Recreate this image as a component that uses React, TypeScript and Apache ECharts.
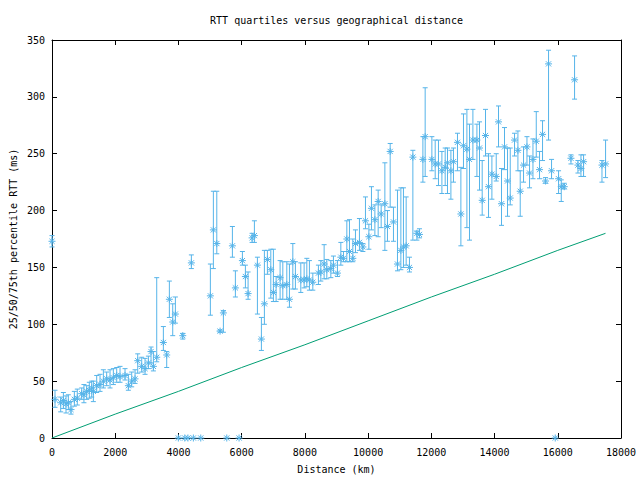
import React, { useEffect, useRef } from "react";
import * as echarts from "echarts";

const distanceKm = [0,95,275,360,443,517,601,707,800,940,1010,1097,1180,1256,1308,1414,1519,1625,1730,1836,1941,2047,2152,2310,2416,2521,2627,2712,2838,2943,3049,3133,3207,3313,3523,3629,3713,3819,3903,3997,4136,4200,4300,4409,4472,4706,5010,5105,5213,5317,5422,5529,5707,5801,5918,6023,6118,6203,6330,6403,6498,6624,6719,6814,6922,7004,7090,7216,7302,7428,7511,7618,7700,7871,7976,8061,8143,8251,8428,8504,8609,8694,8821,8903,9030,9137,9220,9327,9410,9517,9600,9726,9834,9916,10024,10106,10214,10318,10413,10530,10612,10698,10802,10929,11036,11118,11204,11308,11416,11543,11625,11733,11805,12017,12122,12226,12334,12438,12511,12619,12700,12827,12935,13017,13125,13207,13315,13442,13524,13609,13714,13809,13916,14053,14125,14220,14315,14410,14496,14632,14739,14812,14917,15025,15107,15215,15319,15423,15518,15613,15708,15803,15920,16025,16110,16205,16417,16531,16638,16733,16816,17398,17512];
const medianRtt = [173,34,31,33,30,31,25,34,35,39,38,41,42,44,41,46,47,50,52,51,53,55,54,55,46,50,52,68,63,61,66,76,63,71,84,73,122,102,109,0,90,0,0,154,0,0,125,183,171,94,110,0,169,132,0,156,142,127,176,178,152,87,118,157,148,128,135,141,134,135,122,155,142,139,139,140,139,137,145,146,153,148,149,152,145,159,158,175,164,158,171,172,168,191,177,202,192,208,197,206,186,252,190,153,165,168,169,150,247,180,179,245,265,245,241,241,235,238,242,235,243,260,197,257,254,245,262,262,255,209,266,221,232,230,278,206,256,226,211,262,253,217,240,256,233,245,261,236,267,226,329,235,0,228,221,221,246,315,240,237,243,240,241];
const q1Rtt = [168,27,23,26,22,25,21,28,29,34,31,34,35,36,32,40,41,44,46,44,47,49,49,51,42,45,48,57,58,56,61,66,59,67,77,62,106,90,101,0,87,0,0,149,0,0,108,149,162,93,93,0,159,124,0,152,132,122,172,172,109,77,100,144,123,120,120,122,122,122,115,131,131,128,132,133,130,130,135,138,140,140,141,145,142,152,155,155,155,155,163,165,164,184,166,183,178,177,185,165,173,203,173,147,148,150,152,146,174,174,176,225,230,235,228,222,215,222,215,210,225,235,169,237,185,174,245,230,218,196,248,194,210,226,256,187,236,195,205,248,235,195,225,240,220,228,247,228,244,224,262,228,0,215,208,219,241,298,233,230,230,225,229];
const q3Rtt = [178,42,36,40,37,38,32,41,43,44,47,46,49,50,50,55,56,60,58,60,61,62,63,61,56,58,60,74,71,70,72,80,76,141,98,76,138,118,124,0,92,0,0,161,0,0,153,217,217,95,112,0,186,147,0,164,152,146,180,191,159,106,165,165,166,166,142,156,155,155,153,171,155,154,154,158,156,145,152,156,170,157,156,160,156,172,164,191,192,175,183,193,171,212,188,221,205,218,205,242,200,259,203,218,220,220,212,159,253,182,184,265,308,265,262,262,252,255,255,253,255,268,238,285,289,276,289,276,278,244,289,250,248,250,292,237,273,255,255,268,270,235,256,265,248,263,287,252,279,229,341,245,0,235,227,224,249,336,244,249,249,244,262];

const guideKm = [0, 2000, 4000, 6000, 8000, 10000, 12000, 14000, 16000, 17510];
const guideMs = [0, 21, 41, 62, 82, 103, 124, 144, 165, 180];

const xTicks = { min: 0, max: 18000, interval: 2000 };
const yTicks = { min: 0, max: 350, interval: 50 };

const title = "RTT quartiles versus geographical distance";
const xName = "Distance (km)";
const yName = "25/50/75th percentile RTT (ms)";

const BLUE = "#56B4E9";
const GREEN = "#009E73";
const FONT = "DejaVu Sans Mono";

export default function App() {
  const ref = useRef<HTMLDivElement>(null);
  useEffect(() => {
    if (!ref.current) return;
    document.body.style.margin = "0";
    const chart = echarts.init(ref.current, null, { renderer: "svg" });
    const data = distanceKm.map((d, i) => [d, medianRtt[i], q1Rtt[i], q3Rtt[i]]);
    const axisCommon = {
      axisLine: { show: true, onZero: false, lineStyle: { color: "#000", width: 1 } },
      axisTick: { show: true, inside: true, length: 5, lineStyle: { color: "#000" } },
      splitLine: { show: false },
    };
    const left = 52, right = 19, top = 40, bottom = 42;
    chart.setOption({
      animation: false,
      backgroundColor: "#fff",
      grid: { left, right, top, bottom, containLabel: false },
      xAxis: [
        {
          type: "value", ...xTicks, position: "bottom", ...axisCommon,
          axisLabel: { color: "#000", fontFamily: FONT, fontSize: 10, margin: 9, formatter: (v: number) => String(v) },
        },
        {
          type: "value", ...xTicks, position: "top", ...axisCommon,
          axisLabel: { show: false },
        },
      ],
      yAxis: [
        {
          type: "value", ...yTicks, position: "left", ...axisCommon,
          axisLabel: { color: "#000", fontFamily: FONT, fontSize: 10, margin: 7, formatter: (v: number) => String(v) },
        },
        {
          type: "value", ...yTicks, position: "right", ...axisCommon,
          axisLabel: { show: false },
        },
      ],
      graphic: [
        { type: "text", x: 336.5, y: 20, style: { text: title, fontFamily: FONT, fontSize: 10, fill: "#000", textAlign: "center", textVerticalAlign: "middle" } },
        { type: "text", x: 336.5, y: 469, style: { text: xName, fontFamily: FONT, fontSize: 10, fill: "#000", textAlign: "center", textVerticalAlign: "middle" } },
        { type: "text", x: 13, y: 239, rotation: Math.PI / 2, style: { text: yName, fontFamily: FONT, fontSize: 10, fill: "#000", textAlign: "center", textVerticalAlign: "middle" } },
      ],
      series: [
        {
          type: "line",
          data: guideKm.map((d, i) => [d, guideMs[i]]),
          symbol: "none",
          lineStyle: { color: GREEN, width: 1 },
          z: 2,
        },
        {
          type: "custom",
          clip: false,
          z: 3,
          data,
          renderItem: (params: any, api: any) => {
            const x = api.value(0), m = api.value(1), lo = api.value(2), hi = api.value(3);
            const p = api.coord([x, m]);
            const pl = api.coord([x, lo]);
            const ph = api.coord([x, hi]);
            const style = { stroke: BLUE, lineWidth: 1, fill: "none" };
            const children: any[] = [];
            const cap = 2.5, r = 3.5, d = 2.6;
            if (hi !== lo) {
              children.push({ type: "line", shape: { x1: pl[0], y1: pl[1], x2: ph[0], y2: ph[1] }, style });
              children.push({ type: "line", shape: { x1: pl[0] - cap, y1: pl[1], x2: pl[0] + cap, y2: pl[1] }, style });
              children.push({ type: "line", shape: { x1: ph[0] - cap, y1: ph[1], x2: ph[0] + cap, y2: ph[1] }, style });
            }
            children.push({ type: "line", shape: { x1: p[0] - r, y1: p[1], x2: p[0] + r, y2: p[1] }, style });
            children.push({ type: "line", shape: { x1: p[0], y1: p[1] - r, x2: p[0], y2: p[1] + r }, style });
            children.push({ type: "line", shape: { x1: p[0] - d, y1: p[1] - d, x2: p[0] + d, y2: p[1] + d }, style });
            children.push({ type: "line", shape: { x1: p[0] - d, y1: p[1] + d, x2: p[0] + d, y2: p[1] - d }, style });
            return { type: "group", children };
          },
        },
      ],
    });
    return () => chart.dispose();
  }, []);
  return <div ref={ref} style={{ width: 640, height: 480 }} />;
}
